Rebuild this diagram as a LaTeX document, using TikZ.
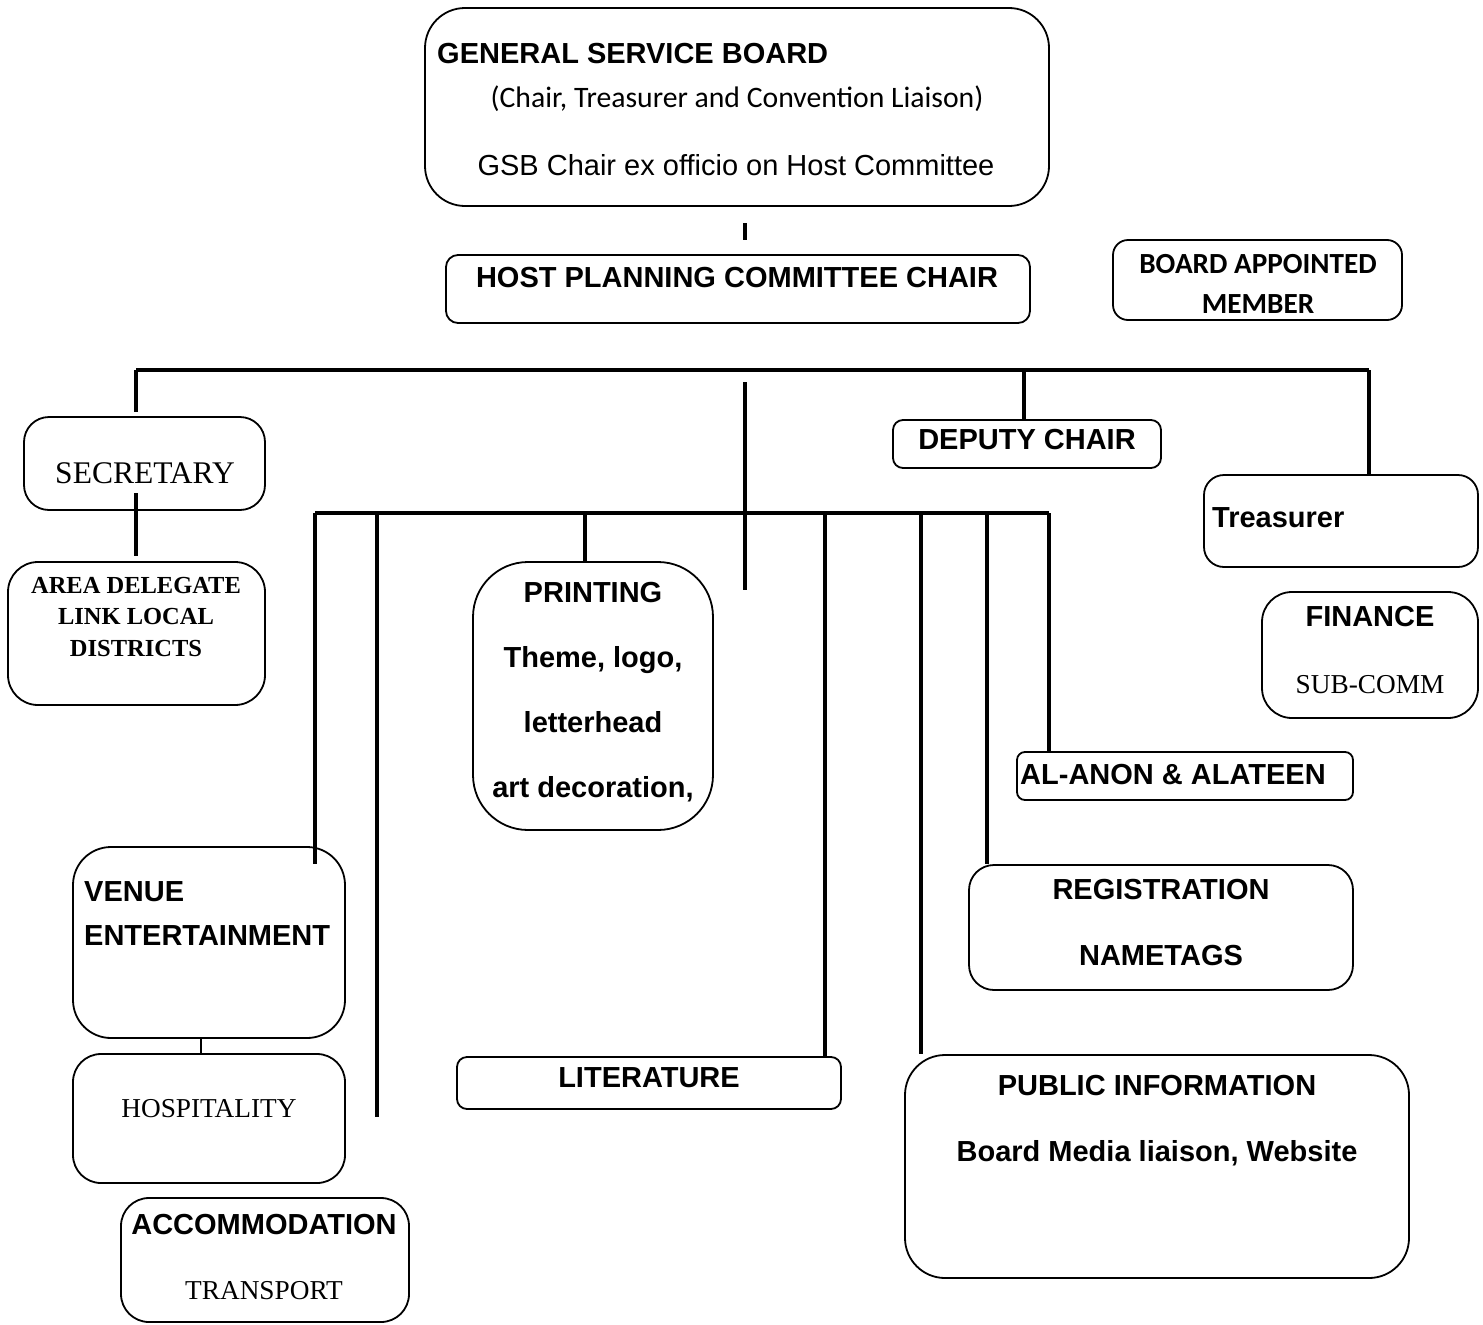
\documentclass[tikz,border=0pt]{standalone}
\usepackage{fontspec}
\setmainfont{Liberation Sans}
\newfontfamily\calfont{Carlito}
\newfontfamily\serfont{Liberation Serif}
\usepackage{tikz}
\usetikzlibrary{positioning,calc}

\begin{document}
\begin{tikzpicture}[x=1pt, y=-1pt,
    box/.style={draw, line width=1.8pt, inner sep=0pt},
    link/.style={line width=3.6pt},
    hd/.style={inner sep=0pt, font=\fontsize{29}{34}\selectfont\bfseries},
    nm/.style={inner sep=0pt, font=\fontsize{29}{34}\selectfont},
    cal/.style={inner sep=0pt, font=\calfont\fontsize{29.7}{34}\selectfont},
    calb/.style={inner sep=0pt, font=\calfont\fontsize{29.2}{34}\selectfont\bfseries},
    ser/.style={inner sep=0pt, font=\serfont\fontsize{27.3}{32}\selectfont},
    serb/.style={inner sep=0pt, font=\serfont\fontsize{24.5}{32}\selectfont\bfseries}]
    \useasboundingbox (0,0) rectangle (1483,1325);
    % Board
    \node[box, rounded corners=40pt, minimum width=624pt, minimum height=198pt] (gsb) at (737,107) {};
    \node[hd, anchor=base west] (gsb-t1) at (437,63) {GENERAL SERVICE BOARD};
    \node[cal, anchor=base] (gsb-t2) at (737,107) {(Chair, Treasurer and Convention Liaison)};
    \node[nm, anchor=base] (gsb-t3) at (736,175) {GSB Chair ex officio on Host Committee};
    \node[box, rounded corners=12pt, minimum width=584pt, minimum height=68pt] (hpc) at (738,289) {};
    \node[hd, anchor=base] (hpc-t) at (737,287) {HOST PLANNING COMMITTEE CHAIR};
    \node[box, rounded corners=15pt, minimum width=289pt, minimum height=80pt] (bam) at (1257.5,280) {};
    \node[calb, anchor=base] (bam-t1) at (1258,273) {BOARD APPOINTED};
    \node[calb, anchor=base] (bam-t2) at (1258,313) {MEMBER};
    % Upper row
    \node[box, rounded corners=25pt, minimum width=241pt, minimum height=93pt] (sec) at (144.5,463.5) {};
    \node[ser, font=\serfont\fontsize{31.5}{36}\selectfont, anchor=base] (sec-t) at (145,483) {SECRETARY};
    \node[box, rounded corners=30pt, minimum width=257pt, minimum height=143pt] (area) at (136.5,633.5) {};
    \foreach \t [count=\i] in {AREA DELEGATE, LINK LOCAL, DISTRICTS}
        \node[serb, anchor=base] (area-t\i) at (136,561.5+31.5*\i) {\t};
    \node[box, rounded corners=10pt, minimum width=268pt, minimum height=48pt] (dep) at (1027,444) {};
    \node[hd, anchor=base] (dep-t) at (1027,449) {DEPUTY CHAIR};
    \node[box, rounded corners=20pt, minimum width=274pt, minimum height=92pt] (tre) at (1341,521) {};
    \node[hd, anchor=base west] (tre-t) at (1212,527) {Treasurer};
    \node[box, rounded corners=30pt, minimum width=216pt, minimum height=126pt] (fin) at (1370,655) {};
    \node[hd, anchor=base] (fin-t1) at (1370,626) {FINANCE};
    \node[ser, anchor=base] (fin-t2) at (1370,693) {SUB-COMM};
    % Sub-committees
    \node[box, rounded corners=55pt, minimum width=240pt, minimum height=268pt] (prt) at (593,696) {};
    \foreach \t [count=\i] in {PRINTING, {Theme, logo,}, letterhead, {art decoration,}}
        \node[hd, anchor=base] (prt-t\i) at (593,537+65*\i) {\t};
    \node[box, rounded corners=8pt, minimum width=336pt, minimum height=48pt] (alanon) at (1185,776) {};
    \node[hd, anchor=base west] (alanon-t) at (1020,784) {AL-ANON \& ALATEEN};
    \node[box, rounded corners=25pt, minimum width=384pt, minimum height=125pt] (reg) at (1161,927.5) {};
    \node[hd, anchor=base] (reg-t1) at (1161,899) {REGISTRATION};
    \node[hd, anchor=base] (reg-t2) at (1161,965) {NAMETAGS};
    \node[box, rounded corners=38pt, minimum width=272pt, minimum height=191pt] (venue) at (209,942.5) {};
    \node[hd, anchor=base west] (venue-t1) at (84,901) {VENUE};
    \node[hd, anchor=base west] (venue-t2) at (84,945) {ENTERTAINMENT};
    \node[box, rounded corners=28pt, minimum width=272pt, minimum height=129pt] (hosp) at (209,1118.5) {};
    \node[ser, anchor=base] (hosp-t) at (209,1117) {HOSPITALITY};
    \node[box, rounded corners=28pt, minimum width=288pt, minimum height=124pt] (accom) at (265,1260) {};
    \node[hd, anchor=base] (accom-t1) at (264,1234) {ACCOMMODATION};
    \node[ser, anchor=base] (accom-t2) at (264,1299) {TRANSPORT};
    \node[box, rounded corners=10pt, minimum width=384pt, minimum height=52pt] (lit) at (649,1083) {};
    \node[hd, anchor=base] (lit-t) at (649,1087) {LITERATURE};
    \node[box, rounded corners=40pt, minimum width=504pt, minimum height=223pt] (pub) at (1157,1166.5) {};
    \node[hd, anchor=base] (pub-t1) at (1157,1095) {PUBLIC INFORMATION};
    \node[hd, anchor=base] (pub-t2) at (1157,1161) {Board Media liaison, Website};
    % Lines
    \coordinate (tick1) at (745,223);
    \coordinate (tick2) at (745,240);
    \draw[link] (tick1) -- (tick2);
    \coordinate (busL) at (136,370);
    \coordinate (busR) at (1369,370);
    \coordinate (busD) at (1024,370);
    \draw[link] (busL) -- (busR);
    \draw[link] (busL) -- ($(busL |- sec.north)+(0,-4)$);
    \draw[link] (busD) -- (busD |- dep.north);
    \draw[link] (busR) -- (busR |- tre.north);
    \coordinate (secL) at (136,493);
    \draw[link] (secL) -- ($(secL |- area.north)+(0,-5)$);
    \coordinate (mid1) at (745,382);
    \coordinate (mid2) at (745,590);
    \draw[link] (mid1) -- (mid2);
    \coordinate (lowL) at (315,513);
    \coordinate (lowR) at (1049,513);
    \draw[link] (lowL) -- (lowR);
    \draw[link] (lowL) -- ($(lowL |- venue.north)+(0,18)$);
    \draw[link] (lowR) -- (lowR |- alanon.north);
    \coordinate (free1) at (377,511);
    \coordinate (free2) at (377,1117);
    \draw[link] (free1) -- (free2);
    \foreach \x/\n in {585/prt, 825/lit, 921/pub, 987/reg} {
        \coordinate (top-\n) at (\x,513);
        \draw[link] (top-\n) -- (top-\n |- \n.north);
    }
    \coordinate (vh) at (201,1038);
    \draw[line width=1.5pt] (vh) -- (vh |- hosp.north);
\end{tikzpicture}
\end{document}
